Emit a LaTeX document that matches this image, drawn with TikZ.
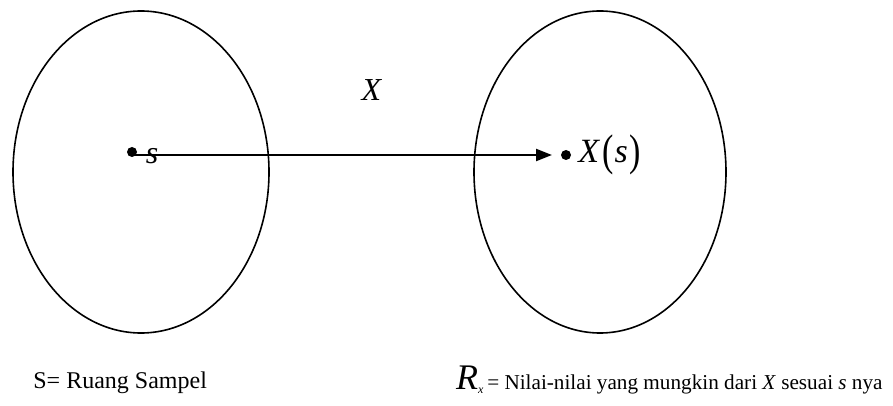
\documentclass[tikz,border=0pt]{standalone}
\usepackage{fontspec}
\setmainfont{Liberation Serif}
\usetikzlibrary{shapes.geometric,arrows.meta,positioning}

\newcommand{\tallparen}[1]{\raisebox{-1.5pt}{\scalebox{1}[1.3]{#1}}}

\begin{document}
\begin{tikzpicture}[x=0.5pt, y=-0.5pt,
    space/.style={ellipse, draw, line width=0.8pt, minimum width=128pt,
        minimum height=161pt, inner sep=0pt},
    dot/.style={circle, fill, inner sep=0pt, minimum size=5pt},
    lbl/.style={inner sep=0pt, font=\fontsize{16}{18}\selectfont},
    txt/.style={inner sep=0pt, font=\fontsize{12}{14}\selectfont},
    arr/.style={-{Triangle[length=8pt, width=6pt]}, line width=1.1pt}
]
    \useasboundingbox (0,0) rectangle (893,406);

    \node[space] (sspace) at (141,172) {};
    \node[space, minimum width=126pt] (range) at (600,172) {};

    \node[dot] (sdot) at (132,152) {};
    \node[dot] (xdot) at (566,155) {};

    \node[lbl] (slabel) at (152,156) {\textit{s}};
    \node[lbl] (maplabel) at (372,90) {\textit{X}};
    \node[lbl, anchor=west, font=\fontsize{17}{19}\selectfont] (xslabel) at (578,155)
        {\textit{X}\kern1pt\tallparen{(}\kern0.5pt\textit{s}\kern1pt\tallparen{)}};

    \draw[arr, shorten >=7pt] (sdot.center |- xdot.center) -- (xdot.center);

    \node[txt, anchor=base west] (slegend) at (33,388) {S= Ruang Sampel};
    \node[txt, anchor=base east, font=\fontsize{10.6}{12}\selectfont] (rlegend) at (883,389)
        {= Nilai-nilai yang mungkin dari \textit{X} sesuai \textit{s} nya};
    \node[txt, anchor=base east] (rname) at (rlegend.base west)
        {{\fontsize{18}{20}\selectfont\textit{R}}\raisebox{-2pt}{\fontsize{6}{6}\selectfont\textit{x}}\kern1.5pt};
\end{tikzpicture}
\end{document}
